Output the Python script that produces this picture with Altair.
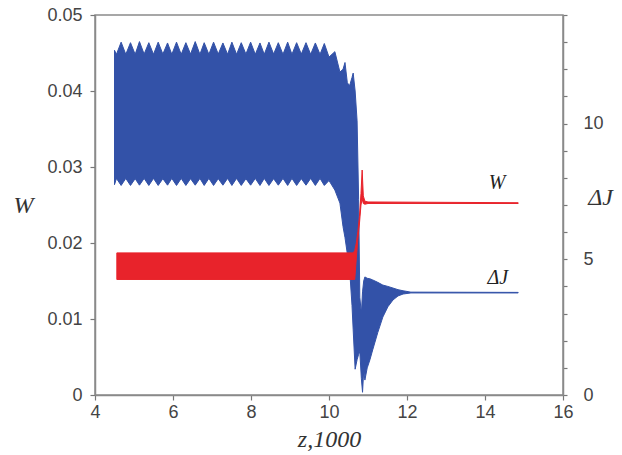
import altair as alt
import pandas as pd

# ---- data ----
# Blue band (ΔJ, right axis): envelope of the fast oscillation
z_blue = [4.50, 4.55, 4.67, 4.79, 4.91, 5.03, 5.14, 5.26, 5.38, 5.50, 5.62, 5.74, 5.86, 5.97,
          6.09, 6.21, 6.33, 6.45, 6.57, 6.69, 6.80, 6.92, 7.04, 7.16, 7.28, 7.40, 7.51, 7.63,
          7.75, 7.87, 7.99, 8.11, 8.23, 8.34, 8.46, 8.58, 8.70, 8.82, 8.94, 9.05, 9.17, 9.29,
          9.41, 9.53, 9.65, 9.77, 9.88, 10.00, 10.15, 10.28, 10.36, 10.41, 10.47, 10.53, 10.59,
          10.62, 10.67, 10.72, 10.76, 10.79, 10.83, 10.86, 10.89, 10.92, 10.98, 11.05, 11.12,
          11.25, 11.38, 11.51, 11.64, 11.77, 11.90, 12.10, 14.85]
dj_hi = [12.70, 12.55, 13.00, 12.55, 12.98, 12.55, 13.02, 12.56, 12.98, 12.55, 13.00, 12.56, 12.97,
         12.55, 13.00, 12.55, 12.98, 12.56, 13.02, 12.55, 12.98, 12.55, 13.00, 12.56, 12.97, 12.55,
         13.00, 12.55, 12.98, 12.56, 13.00, 12.55, 12.97, 12.55, 13.00, 12.56, 12.98, 12.55, 13.00,
         12.55, 12.98, 12.56, 12.98, 12.55, 12.97, 12.55, 12.95, 12.45, 12.65, 11.90, 12.00, 12.25,
         11.50, 11.40, 11.70, 11.86, 11.20, 10.10, 7.20, 3.60, 3.00, 3.80, 4.20, 4.35, 4.30, 4.28,
         4.24, 4.15, 4.05, 4.00, 3.94, 3.88, 3.84, 3.79, 3.78]
dj_lo = [7.75, 7.98, 7.72, 7.98, 7.72, 7.97, 7.73, 7.98, 7.72, 7.98, 7.72, 7.97, 7.73, 7.98, 7.72,
         7.98, 7.72, 7.97, 7.73, 7.98, 7.72, 7.98, 7.72, 7.97, 7.73, 7.98, 7.72, 7.98, 7.72, 7.97,
         7.73, 7.98, 7.72, 7.98, 7.72, 7.97, 7.73, 7.98, 7.72, 7.98, 7.72, 7.97, 7.73, 7.98, 7.72,
         7.98, 7.72, 7.90, 7.55, 7.07, 6.20, 5.80, 5.20, 4.60, 3.30, 2.40, 0.95, 1.30, 1.50, 1.60,
         0.60, 0.10, 0.90, 0.55, 1.00, 1.30, 1.66, 2.30, 2.87, 3.25, 3.50, 3.65, 3.72, 3.76, 3.76]

# Red band (W, left axis)
z_red = [4.56, 10.62, 10.66, 10.70, 10.74, 10.78, 10.82, 10.85, 10.88, 10.92, 11.00, 14.85]
w_hi = [0.0187, 0.0187, 0.0190, 0.0200, 0.0215, 0.0235, 0.0265, 0.0296, 0.0262, 0.0255, 0.0254, 0.0253]
w_lo = [0.0152, 0.0152, 0.0152, 0.0180, 0.0205, 0.0225, 0.0250, 0.0258, 0.0252, 0.0251, 0.0252, 0.0252]

# in-plot labels
w_label = ["W"]
w_label_z = [14.31]
w_label_v = [0.0279]
dj_label = ["ΔJ"]
dj_label_z = [14.33]
dj_label_v = [4.31]

x_ticks = [4, 6, 8, 10, 12, 14, 16]
w_ticks = [0, 0.01, 0.02, 0.03, 0.04, 0.05]
dj_ticks = list(range(0, 15))

BLUE = "#3352a8"
RED = "#e8232b"
SANS = "Liberation Sans"
SERIF = "Liberation Serif"
AX = "#8a8a8a"
TK = "#777777"

blue_df = pd.DataFrame({"z": z_blue, "lo": dj_lo, "hi": dj_hi})
red_df = pd.DataFrame({"z": z_red, "lo": w_lo, "hi": w_hi})
wl_df = pd.DataFrame({"z": w_label_z, "lo": w_label_v, "t": w_label})
dl_df = pd.DataFrame({"z": dj_label_z, "lo": dj_label_v, "t": dj_label})

x_axis = alt.Axis(values=x_ticks, title="z,1000", titleFont=SERIF, titleFontStyle="italic",
                  titleFontWeight="normal", titleFontSize=24, titleColor="#333",
                  titleBaseline="alphabetic", titleY=51,
                  labelFont=SANS, labelFontSize=18, labelColor="#444",
                  tickSize=5, labelPadding=3, tickColor=TK, tickWidth=1.2,
                  domainColor=AX, domainWidth=1.5, grid=False, labelFlush=False)
x_scale = alt.Scale(domain=[4, 16], nice=False, zero=False)
x_enc = alt.X("z:Q", scale=x_scale, axis=x_axis)

w_scale = alt.Scale(domain=[0, 0.05], nice=False)
w_axis = alt.Axis(orient="left", values=w_ticks,
                  labelExpr="datum.value == 0 ? '0' : format(datum.value, '.2f')",
                  title="W", titleAngle=0, titleFont=SERIF, titleFontStyle="italic",
                  titleFontWeight="normal", titleFontSize=24, titleColor="#333",
                  titleAlign="center", titleBaseline="middle", titleX=-72, titleY=190,
                  labelFont=SANS, labelFontSize=18, labelColor="#444",
                  tickSize=5, labelPadding=8, tickColor=TK, tickWidth=1.2,
                  domainColor=AX, domainWidth=1.5, grid=False, labelFlush=False)

dj_scale = alt.Scale(domain=[0, 14], nice=False)
dj_axis = alt.Axis(orient="right", values=dj_ticks,
                   labelExpr="datum.value % 5 == 0 ? datum.value : ''",
                   title="ΔJ", titleAngle=0, titleFont=SERIF, titleFontStyle="italic",
                   titleFontWeight="normal", titleFontSize=24, titleColor="#333",
                   titleAlign="center", titleBaseline="middle", titleX=37, titleY=182,
                   labelFont=SANS, labelFontSize=18, labelColor="#444",
                   tickSize=4, labelPadding=16, tickColor=TK, tickWidth=1.2,
                   domainColor=AX, domainWidth=1.5, grid=False, labelFlush=False)

blue_area = alt.Chart(blue_df).mark_area(color=BLUE, stroke=BLUE, strokeWidth=1).encode(
    x=x_enc,
    y=alt.Y("lo:Q", scale=dj_scale, axis=dj_axis),
    y2="hi:Q",
)
dj_text = alt.Chart(dl_df).mark_text(font=SERIF, fontStyle="italic", fontSize=20,
                                     color="#222", baseline="middle").encode(
    x=x_enc,
    y=alt.Y("lo:Q", scale=dj_scale, axis=dj_axis),
    text="t:N",
)

red_area = alt.Chart(red_df).mark_area(color=RED, stroke=RED, strokeWidth=1).encode(
    x=x_enc,
    y=alt.Y("lo:Q", scale=w_scale, axis=w_axis),
    y2="hi:Q",
)
w_text = alt.Chart(wl_df).mark_text(font=SERIF, fontStyle="italic", fontSize=20,
                                    color="#222", baseline="middle").encode(
    x=x_enc,
    y=alt.Y("lo:Q", scale=w_scale, axis=w_axis),
    text="t:N",
)

chart = alt.layer(
    alt.layer(blue_area, dj_text),
    alt.layer(red_area, w_text),
).resolve_scale(y="independent").properties(
    width=468, height=380,
    autosize=alt.AutoSizeParams(type="none"),
    padding={"left": 95, "top": 15, "right": 59, "bottom": 60},
    background="white",
).configure_view(stroke=AX, strokeWidth=1.5)

chart.save("out.html", embed_options={"renderer": "svg", "actions": False})
